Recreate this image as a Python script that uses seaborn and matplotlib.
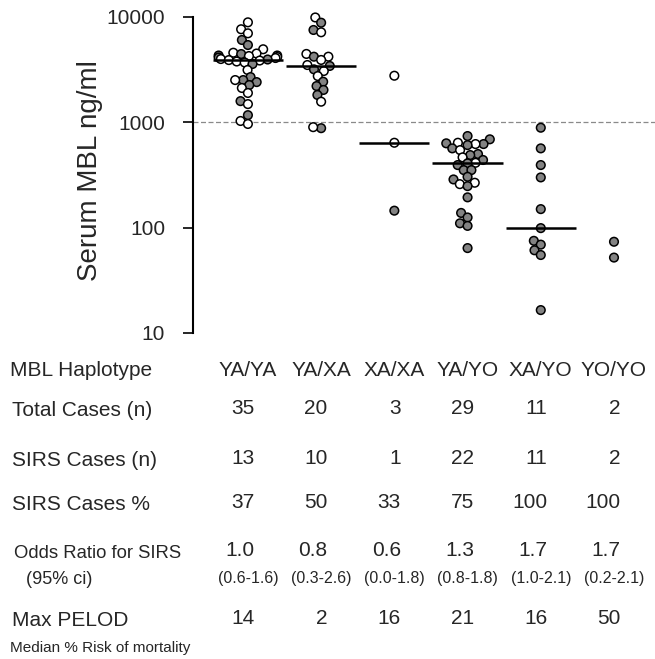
import numpy as np
import pandas as pd
import seaborn as sns
from matplotlib import pyplot as plt
from matplotlib import transforms
from matplotlib.ticker import FixedLocator, NullLocator

# haplotype groups (x categories)
haplotypes = ["YA/YA", "YA/XA", "XA/XA", "YA/YO", "XA/YO", "YO/YO"]

# serum MBL (ng/ml) per child; 1 = SIRS case (grey dot)
ya_ya_mbl = [8900, 7650, 7000, 6050, 5420, 4940, 4580,
             4500, 4450, 4310, 4310, 4260, 4170, 4125, 4080, 3990, 3950, 3900, 3860, 3780, 3700, 3580,
             3140, 2690, 2520, 2520, 2410, 2260, 2120, 1900, 1590, 1490, 1170, 1030, 965]
ya_ya_sirs = [0, 0, 0, 1, 1, 0, 0,
              0, 1, 0, 1, 0, 0, 1, 0, 0, 1, 0, 0, 0, 0, 1,
              0, 1, 1, 0, 1, 1, 0, 0, 1, 0, 1, 0, 0]
ya_xa_mbl = [9900, 8830, 7530, 7160, 4460, 4200, 4200, 3910, 3500, 3430,
             3185, 3070, 2750, 2430, 2210, 2030, 1820, 1570, 880, 900]
ya_xa_sirs = [0, 1, 1, 0, 0, 1, 0, 0, 0, 1,
              1, 0, 0, 1, 1, 1, 1, 0, 1, 0]
xa_xa_mbl = [2770, 640, 145]
xa_xa_sirs = [0, 0, 1]
ya_yo_mbl = [741, 690, 640, 632, 622, 622, 608, 566, 545, 500, 489, 465, 439, 413, 408,
             393, 352, 352, 304, 287, 267, 259, 248, 194, 138, 125, 110, 104, 64]
ya_yo_sirs = [1, 1, 0, 1, 1, 0, 1, 1, 0, 1, 1, 0, 1, 0, 1,
              1, 1, 1, 1, 1, 0, 0, 1, 1, 1, 1, 1, 1, 1]
xa_yo_mbl = [889, 566, 393, 300, 150, 99, 75, 69, 61, 55, 16.5]
xa_yo_sirs = [1] * 11
yo_yo_mbl = [73.5, 52]
yo_yo_sirs = [1, 1]

# median bars (none drawn for YO/YO)
medians = [3900, 3430, 640, 408, 99, np.nan]

# table under the chart
total_cases = ["35", "20", "3", "29", "11", "2"]
sirs_cases = ["13", "10", "1", "22", "11", "2"]
sirs_pct = ["37", "50", "33", "75", "100", "100"]
odds_ratio = ["1.0", "0.8", "0.6", "1.3", "1.7", "1.7"]
odds_ci = ["(0.6-1.6)", "(0.3-2.6)", "(0.0-1.8)", "(0.8-1.8)", "(1.0-2.1)", "(0.2-2.1)"]
max_pelod = ["14", "2", "16", "21", "16", "50"]

groups = [
    (ya_ya_mbl, ya_ya_sirs), (ya_xa_mbl, ya_xa_sirs), (xa_xa_mbl, xa_xa_sirs),
    (ya_yo_mbl, ya_yo_sirs), (xa_yo_mbl, xa_yo_sirs), (yo_yo_mbl, yo_yo_sirs),
]
rows = []
for name, (vals, flags) in zip(haplotypes, groups):
    for v, f in zip(vals, flags):
        rows.append({"haplotype": name, "mbl": v, "sirs": "SIRS" if f else "no SIRS"})
df = pd.DataFrame(rows)

sns.set_style("white")
plt.rcParams["font.family"] = ["Liberation Sans", "DejaVu Sans"]

W, H = 655, 659
fig = plt.figure(figsize=(W / 100, H / 100), dpi=100)
ax = fig.add_axes([193 / W, 1 - 333 / H, 462 / W, 316 / H])
ax.set_yscale("log")
ax.set_ylim(10, 10000)
ax.set_xlim(-0.75, 5.56)

# lay the swarm out with smaller dots so they overlap like the original, then enlarge
sns.swarmplot(data=df, x="haplotype", y="mbl", hue="sirs", order=haplotypes,
              hue_order=["no SIRS", "SIRS"], palette={"no SIRS": "white", "SIRS": "#838383"},
              size=4.4, edgecolor="black", linewidth=1.1, legend=False, ax=ax)
ax.set_ylim(10, 10000)
ax.set_xlim(-0.75, 5.56)
fig.canvas.draw()
for coll in ax.collections:
    if "draw" in coll.__dict__:
        del coll.draw
    coll.set_sizes([6.2 ** 2])
    coll.set_clip_on(False)

xpos = np.arange(len(haplotypes))
ax.hlines(medians, xpos - 0.48, xpos + 0.48, color="black", lw=1.8, zorder=4)
ax.axhline(1000, color="#8a8a8a", lw=0.9, ls=(0, (4, 2)), zorder=0)

ax.yaxis.set_major_locator(FixedLocator([10, 100, 1000, 10000]))
ax.yaxis.set_minor_locator(NullLocator())
ax.set_yticklabels(["10", "100", "1000", "10000"])
ax.tick_params(axis="y", left=True, length=7, width=1.4, pad=13, labelsize=15, direction="out")
ax.tick_params(axis="x", bottom=False, labelbottom=False)
for side in ["top", "right", "bottom"]:
    ax.spines[side].set_visible(False)
ax.spines["left"].set_linewidth(1.5)
ax.spines["left"].set_color("black")
ax.set_xlabel("")
ax.set_ylabel("Serum MBL ng/ml", fontsize=20)
ax.yaxis.set_label_coords(-0.195, 0.515)


def fy(px):
    return 1 - px / H


# row labels
row_labels = [
    ("MBL Haplotype", 10, 370, 15),
    ("Total Cases (n)", 12, 411, 15),
    ("SIRS Cases (n)", 12, 461, 15),
    ("SIRS Cases %", 12, 505, 15),
    ("Odds Ratio for SIRS", 14, 553, 13.3),
    ("(95% ci)", 26, 580, 13),
    ("Max PELOD", 12, 620, 15),
    ("Median % Risk of mortality", 10, 648, 11),
]
for text, x, y, fs in row_labels:
    fig.text(x / W, fy(y), text, fontsize=fs, ha="left", va="center")

tr = transforms.blended_transform_factory(ax.transData, fig.transFigure)
for i, name in enumerate(haplotypes):
    ax.text(i, fy(370), name, transform=tr, fontsize=15, ha="center", va="center", clip_on=False)
    ax.text(i + 0.09, fy(409), total_cases[i], transform=tr, fontsize=15, ha="right", va="center", clip_on=False)
    ax.text(i + 0.09, fy(459), sirs_cases[i], transform=tr, fontsize=15, ha="right", va="center", clip_on=False)
    ax.text(i + 0.09, fy(503), sirs_pct[i], transform=tr, fontsize=15, ha="right", va="center", clip_on=False)
    ax.text(i + 0.09, fy(551), odds_ratio[i], transform=tr, fontsize=15, ha="right", va="center", clip_on=False)
    ax.text(i, fy(579), odds_ci[i], transform=tr, fontsize=11.5, ha="center", va="center", clip_on=False)
    ax.text(i + 0.09, fy(618), max_pelod[i], transform=tr, fontsize=15, ha="right", va="center", clip_on=False)

fig.savefig("out.png", dpi=100)
